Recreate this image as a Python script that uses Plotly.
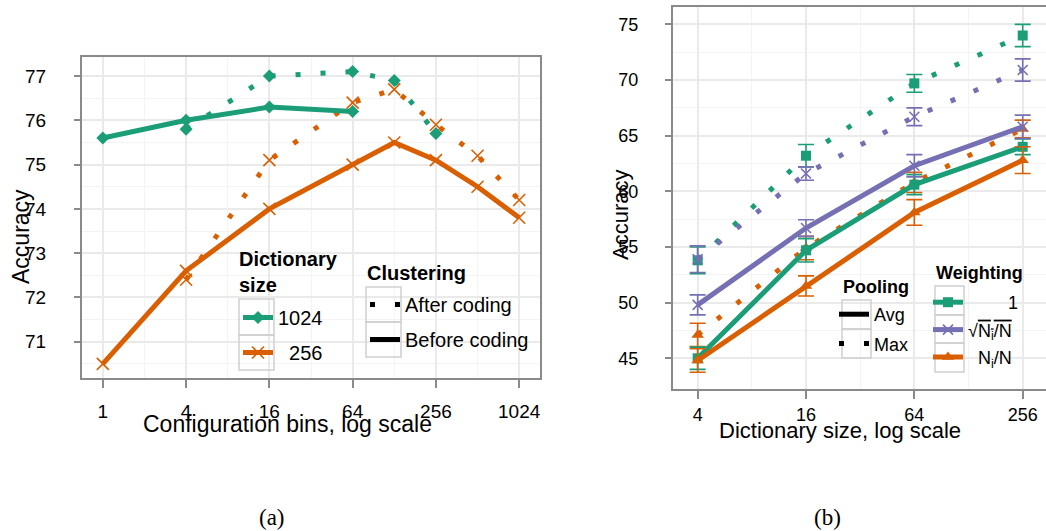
import math
import plotly.graph_objects as go

# ---------------- Panel (a) data ----------------
bins_ticks = [1, 4, 16, 64, 256, 1024]
bins_1024_before = [1, 4, 16, 64]
acc_1024_before = [75.6, 76.0, 76.3, 76.2]
bins_1024_after = [4, 16, 64, 128, 256]
acc_1024_after = [75.8, 77.0, 77.1, 76.9, 75.7]
bins_256_before = [1, 4, 16, 64, 128, 256, 512, 1024]
acc_256_before = [70.5, 72.6, 74.0, 75.0, 75.5, 75.1, 74.5, 73.8]
bins_256_after = [4, 16, 64, 128, 256, 512, 1024]
acc_256_after = [72.4, 75.1, 76.4, 76.7, 75.9, 75.2, 74.2]
acc_ticks_a = [71, 72, 73, 74, 75, 76, 77]

# ---------------- Panel (b) data ----------------
dict_sizes = [4, 16, 64, 256]
w1_avg = [45.0, 54.7, 60.6, 64.0]
w1_avg_err = [1.0, 1.05, 0.9, 0.7]
w1_max = [53.8, 63.2, 69.7, 74.0]
w1_max_err = [1.2, 1.0, 0.8, 1.0]
wsqrt_avg = [49.8, 56.7, 62.3, 65.8]
wsqrt_avg_err = [0.9, 0.75, 1.0, 1.05]
wsqrt_max = [53.9, 61.6, 66.7, 70.9]
wsqrt_max_err = [1.2, 0.6, 0.8, 1.0]
wfrac_avg = [44.8, 51.5, 58.1, 62.8]
wfrac_avg_err = [1.05, 0.9, 1.15, 1.2]
wfrac_max = [47.1, 54.9, 60.8, 65.6]
wfrac_max_err = [1.05, 1.05, 0.9, 0.8]
acc_ticks_b = [45, 50, 55, 60, 65, 70, 75]

GREEN = "#1B9E77"
ORANGE = "#D95F02"
PURPLE = "#7570B3"
DOT = "5px,20px"
LW = 5
FONT = "Liberation Sans"
W, H = 1046, 531
NB = "\u00a0"

def px_x(p):
    return p / W

def px_y(p):
    return 1 - p / H

fig = go.Figure()

# ----- panel (a) traces -----
fig.add_trace(go.Scatter(x=bins_256_after, y=acc_256_after, mode="lines+markers",
                         line=dict(color=ORANGE, width=LW, dash=DOT),
                         marker=dict(symbol="x-thin", size=12, line=dict(color=ORANGE, width=1.6)),
                         showlegend=False, xaxis="x", yaxis="y"))
fig.add_trace(go.Scatter(x=bins_1024_after, y=acc_1024_after, mode="lines+markers",
                         line=dict(color=GREEN, width=LW, dash=DOT),
                         marker=dict(symbol="diamond", size=10, color=GREEN),
                         showlegend=False, xaxis="x", yaxis="y"))
fig.add_trace(go.Scatter(x=bins_256_before, y=acc_256_before, mode="lines+markers",
                         line=dict(color=ORANGE, width=LW),
                         marker=dict(symbol="x-thin", size=12, line=dict(color=ORANGE, width=1.6)),
                         name=NB * 2 + "256", legend="legend", legendgroup="a2", legendrank=2,
                         xaxis="x", yaxis="y"))
fig.add_trace(go.Scatter(x=bins_1024_before, y=acc_1024_before, mode="lines+markers",
                         line=dict(color=GREEN, width=LW),
                         marker=dict(symbol="diamond", size=10, color=GREEN),
                         name="1024", legend="legend", legendgroup="a1", legendrank=1,
                         xaxis="x", yaxis="y"))
# clustering legend keys (legend only)
fig.add_trace(go.Scatter(x=[None], y=[None], mode="lines", line=dict(color="black", width=LW, dash=DOT),
                         name="After coding", legend="legend2", legendgroup="c1", legendrank=1,
                         xaxis="x", yaxis="y"))
fig.add_trace(go.Scatter(x=[None], y=[None], mode="lines", line=dict(color="black", width=LW),
                         name="Before coding", legend="legend2", legendgroup="c2", legendrank=2,
                         xaxis="x", yaxis="y"))

# ----- panel (b) traces -----
def eb(err, color):
    return dict(type="data", array=err, visible=True, color=color, thickness=1.6, width=8)

series_b = [
    (w1_max, w1_max_err, GREEN, "square", 10),
    (wsqrt_max, wsqrt_max_err, PURPLE, "x-thin", 10),
    (wfrac_max, wfrac_max_err, ORANGE, "triangle-up", 11),
]
for vals, err, col, sym, sz in series_b:
    mk = dict(symbol=sym, size=sz, color=col)
    if sym == "x-thin":
        mk["line"] = dict(color=col, width=1.6)
    fig.add_trace(go.Scatter(x=dict_sizes, y=vals, mode="lines+markers",
                             line=dict(color=col, width=LW, dash=DOT), marker=mk,
                             error_y=eb(err, col), showlegend=False, xaxis="x2", yaxis="y2"))

avg_b = [
    (w1_avg, w1_avg_err, GREEN, "square", 10, NB * 8 + "1", "w1"),
    (wsqrt_avg, wsqrt_avg_err, PURPLE, "x-thin", 10,
     "\u221a<span style='text-decoration:overline'>N<sub>i</sub>/N</span>", "w2"),
    (wfrac_avg, wfrac_avg_err, ORANGE, "triangle-up", 11, NB * 2 + "N<sub>i</sub>/N", "w3"),
]
for rank, (vals, err, col, sym, sz, name, grp) in enumerate(avg_b):
    mk = dict(symbol=sym, size=sz, color=col)
    if sym == "x-thin":
        mk["line"] = dict(color=col, width=1.6)
    fig.add_trace(go.Scatter(x=dict_sizes, y=vals, mode="lines+markers",
                             line=dict(color=col, width=LW), marker=mk,
                             error_y=eb(err, col), name=name, legend="legend4",
                             legendgroup=grp, legendrank=rank + 1, xaxis="x2", yaxis="y2"))
fig.add_trace(go.Scatter(x=[None], y=[None], mode="lines", line=dict(color="black", width=LW),
                         name="Avg", legend="legend3", legendgroup="p1", legendrank=1,
                         xaxis="x2", yaxis="y2"))
fig.add_trace(go.Scatter(x=[None], y=[None], mode="lines", line=dict(color="black", width=LW, dash=DOT),
                         name="Max", legend="legend3", legendgroup="p2", legendrank=2,
                         xaxis="x2", yaxis="y2"))

L2 = math.log10(2)
AX_LINE = "#8A8A8A"
GRID = "#EAEAEA"
MINOR = "#F4F4F4"

def common_x(fs, standoff):
    return dict(type="log", showline=True, linecolor=AX_LINE, linewidth=2, mirror=True,
                ticks="outside", ticklen=8, tickwidth=2, tickcolor=AX_LINE,
                showgrid=True, gridcolor=GRID, gridwidth=1.5, zeroline=False,
                tickfont=dict(family=FONT, size=fs, color="black"), ticklabelstandoff=standoff)

def common_y(fs, standoff):
    return dict(showline=True, linecolor=AX_LINE, linewidth=2,
                ticks="outside", ticklen=6, tickwidth=2, tickcolor=AX_LINE,
                showgrid=True, gridcolor=GRID, gridwidth=1.5, zeroline=False,
                tickfont=dict(family=FONT, size=fs, color="black"), ticklabelstandoff=standoff)

fig.update_layout(
    width=W, height=H,
    margin=dict(l=0, r=0, t=0, b=0),
    paper_bgcolor="white", plot_bgcolor="white",
    font=dict(family=FONT, size=18, color="black"),
    xaxis=dict(common_x(19, 7), domain=[px_x(82), px_x(540)], anchor="y",
               range=[-0.5 * L2, 10.5 * L2],
               tickvals=bins_ticks, ticktext=[str(v) for v in bins_ticks],
               minor=dict(tickvals=[2, 8, 32, 128, 512], showgrid=True, gridcolor=MINOR,
                          gridwidth=1, ticks="")),
    yaxis=dict(common_y(19, 24), domain=[px_y(378), px_y(57)], anchor="x", mirror=True,
               range=[70.18, 77.43], tickvals=acc_ticks_a,
               minor=dict(tickvals=[70.5, 71.5, 72.5, 73.5, 74.5, 75.5, 76.5], showgrid=True,
                          gridcolor=MINOR, gridwidth=1, ticks="")),
    xaxis2=dict(common_x(18, 0), domain=[px_x(673), 1.0], anchor="y2",
                range=[1.545 * L2, 8.43 * L2],
                tickvals=dict_sizes, ticktext=[str(v) for v in dict_sizes],
                minor=dict(tickvals=[8, 32, 128], showgrid=True, gridcolor=MINOR,
                           gridwidth=1, ticks="")),
    yaxis2=dict(common_y(18, 23), domain=[px_y(389), px_y(7)], anchor="x2", mirror=False,
                range=[42.24, 76.56], tickvals=acc_ticks_b,
                minor=dict(tickvals=[47.5, 52.5, 57.5, 62.5, 67.5, 72.5], showgrid=True,
                           gridcolor=MINOR, gridwidth=1, ticks="")),
)

def leg(x, y, fs, gap):
    return dict(bgcolor="rgba(0,0,0,0)", borderwidth=0, font=dict(family=FONT, size=fs),
                traceorder="grouped", tracegroupgap=gap, itemwidth=30,
                xanchor="left", yanchor="top", x=px_x(x), y=px_y(y))

fig.update_layout(
    legend=leg(238, 298, 20, 6),
    legend2=leg(365, 285, 20, 6),
    legend3=leg(834, 296, 18, 3),
    legend4=leg(928, 284, 18, 1),
)

# legend key boxes (ggplot-style)
BOX = "#D0D0D0"
boxes = [
    (239, 274, 299, 335), (239, 274, 335, 370),
    (366, 401, 287, 322), (366, 401, 322, 357),
    (842, 871, 300, 329), (842, 871, 329, 358),
    (935, 964, 286, 315), (935, 964, 315, 343), (935, 964, 343, 372),
]
shapes = []
for x0, x1, y0, y1 in boxes:
    shapes.append(dict(type="rect", xref="paper", yref="paper",
                       x0=px_x(x0), x1=px_x(x1), y0=px_y(y1), y1=px_y(y0),
                       line=dict(color=BOX, width=1.5), fillcolor="rgba(0,0,0,0)", layer="above"))
fig.update_layout(shapes=shapes)

def note(text, x, y, size, xanchor="center", angle=0, family=FONT, align="center"):
    return dict(text=text, x=px_x(x), y=px_y(y), xref="paper", yref="paper", showarrow=False,
                textangle=angle, font=dict(family=family, size=size, color="black"),
                xanchor=xanchor, yanchor="middle", align=align)

ann = [
    note("Configuration bins, log scale", 287, 424, 23),
    note("Dictionary size, log scale", 840, 430, 22),
    note("Accuracy", 21, 237, 23, angle=-90),
    note("Accuracy", 620, 215, 22, angle=-90),
    note("(a)", 272, 517, 23, family="Liberation Serif"),
    note("(b)", 827, 517, 23, family="Liberation Serif"),
    note("<b>Dictionary<br>size</b>", 237, 272, 20, xanchor="left", align="left"),
    note("<b>Clustering</b>", 365, 273, 20, xanchor="left", align="left"),
    note("<b>Pooling</b>", 841, 287, 18, xanchor="left", align="left"),
    note("<b>Weighting</b>", 934, 273, 18, xanchor="left", align="left"),
]
fig.update_layout(annotations=ann)

fig.write_html("out.html", config={"displayModeBar": False},
               post_script="document.body.style.margin='0';document.body.style.overflow='hidden';")
